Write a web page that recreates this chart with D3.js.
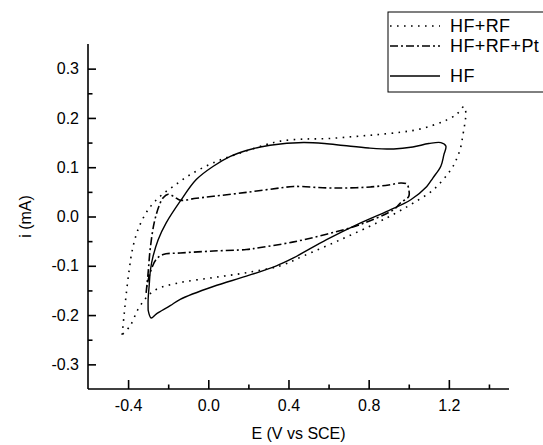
<!DOCTYPE html>
<html>
<head>
<meta charset="utf-8">
<script src="https://cdn.jsdelivr.net/npm/d3@7"></script>
<style>
  html, body { margin: 0; padding: 0; background: #fff; }
  svg { display: block; }
  text { font-family: Arial, "Liberation Sans", Helvetica, sans-serif; fill: #000; }
</style>
</head>
<body>
<svg id="chart" width="543" height="445"></svg>
<script>
// ---------------- data ----------------
const seriesNames = ["HF+RF", "HF+RF+Pt", "HF"];

// HF+RF (dotted) closed loop
const hfrfE = [-0.43, -0.42, -0.41, -0.395, -0.38, -0.35, -0.30, -0.24, -0.175, -0.09, 0.025, 0.16, 0.29, 0.36, 0.47, 0.59, 0.72, 0.84, 0.96, 1.04, 1.12, 1.19, 1.24, 1.275, 1.285, 1.28, 1.27, 1.26, 1.24, 1.21, 1.125, 1.025, 0.94, 0.84, 0.66, 0.475, 0.36, 0.19, 0.025, -0.14, -0.26, -0.31, -0.35, -0.39, -0.43];
const hfrfI = [-0.24, -0.20, -0.16, -0.11, -0.07, -0.026, 0.014, 0.041, 0.061, 0.085, 0.109, 0.129, 0.146, 0.153, 0.157, 0.158, 0.162, 0.166, 0.171, 0.176, 0.185, 0.196, 0.208, 0.223, 0.21, 0.19, 0.165, 0.142, 0.118, 0.095, 0.055, 0.028, 0.008, -0.013, -0.047, -0.080, -0.10, -0.114, -0.124, -0.134, -0.148, -0.165, -0.188, -0.222, -0.24];

// HF+RF+Pt (dash-dot) closed loop
const hfrfptE = [-0.31, -0.30, -0.29, -0.27, -0.245, -0.225, -0.20, -0.17, -0.14, -0.06, 0.025, 0.19, 0.36, 0.425, 0.59, 0.70, 0.81, 0.90, 0.96, 0.99, 1.0, 1.0, 0.96, 0.925, 0.76, 0.59, 0.42, 0.26, 0.19, 0.025, -0.14, -0.225, -0.26, -0.29, -0.305, -0.31];
const hfrfptI = [-0.155, -0.114, -0.067, -0.013, 0.022, 0.038, 0.045, 0.040, 0.033, 0.037, 0.041, 0.049, 0.058, 0.061, 0.058, 0.058, 0.060, 0.064, 0.068, 0.066, 0.055, 0.041, 0.028, 0.014, -0.016, -0.036, -0.052, -0.063, -0.067, -0.070, -0.074, -0.077, -0.087, -0.114, -0.14, -0.155];

// HF (solid) closed loop
const hfE = [-0.30, -0.30, -0.295, -0.288, -0.275, -0.25, -0.21, -0.14, -0.06, 0.025, 0.11, 0.19, 0.26, 0.36, 0.475, 0.58, 0.675, 0.80, 0.925, 1.02, 1.10, 1.16, 1.185, 1.175, 1.16, 1.12, 1.09, 1.01, 0.90, 0.76, 0.59, 0.425, 0.34, 0.19, 0.025, -0.14, -0.19, -0.26, -0.285, -0.30];
const hfI = [-0.19, -0.168, -0.141, -0.107, -0.08, -0.047, -0.013, 0.031, 0.075, 0.102, 0.122, 0.134, 0.141, 0.147, 0.150, 0.148, 0.144, 0.139, 0.137, 0.141, 0.148, 0.150, 0.143, 0.125, 0.102, 0.078, 0.061, 0.034, 0.012, -0.013, -0.047, -0.084, -0.10, -0.121, -0.142, -0.168, -0.181, -0.198, -0.206, -0.19];

const xMajorTicks = [-0.4, 0.0, 0.4, 0.8, 1.2];
const xMinorTicks = [-0.2, 0.2, 0.6, 1.0, 1.4];
const yMajorTicks = [-0.3, -0.2, -0.1, 0.0, 0.1, 0.2, 0.3];
const yMinorTicks = [-0.25, -0.15, -0.05, 0.05, 0.15, 0.25];
const xTitle = "E (V vs SCE)";
const yTitle = "i (mA)";

// ---------------- chart ----------------
const svg = d3.select("#chart");
const mLeft = 88, mRight = 509, mTop = 44, mBottom = 389;

const x = d3.scaleLinear().domain([-0.6, 1.5]).range([mLeft, mRight]);
const y = d3.scaleLinear().domain([-0.35, 0.35]).range([mBottom, mTop]);

const styles = [
  { dash: "1.6,5.4", width: 1.6, cap: "butt" },
  { dash: "8,3,2,3", width: 1.6, cap: "butt" },
  { dash: null, width: 1.4, cap: "butt" }
];
const dataSets = [
  d3.zip(hfrfE, hfrfI),
  d3.zip(hfrfptE, hfrfptI),
  d3.zip(hfE, hfI)
];

const line = d3.line()
  .x(d => x(d[0]))
  .y(d => y(d[1]))
  .curve(d3.curveCatmullRom.alpha(0.5));

dataSets.forEach((ds, k) => {
  const p = svg.append("path")
    .datum(ds)
    .attr("d", line)
    .attr("fill", "none")
    .attr("stroke", "#000")
    .attr("stroke-width", styles[k].width)
    .attr("stroke-linejoin", "round")
    .attr("stroke-linecap", styles[k].cap);
  if (styles[k].dash) p.attr("stroke-dasharray", styles[k].dash);
});

// axes
const fontSize = 16;
const fmt = d => (Math.abs(d) < 1e-9 ? 0 : d).toFixed(1);
const xAxis = svg.append("g").attr("transform", `translate(0,${mBottom})`)
  .call(d3.axisBottom(x).tickValues(xMajorTicks).tickSize(-9).tickPadding(11)
    .tickFormat(fmt));
const xAxisMinor = svg.append("g").attr("transform", `translate(0,${mBottom})`)
  .call(d3.axisBottom(x).tickValues(xMinorTicks).tickSize(-4.5).tickFormat(""));
const yAxis = svg.append("g").attr("transform", `translate(${mLeft},0)`)
  .call(d3.axisLeft(y).tickValues(yMajorTicks).tickSize(-8).tickPadding(9)
    .tickFormat(fmt));
const yAxisMinor = svg.append("g").attr("transform", `translate(${mLeft},0)`)
  .call(d3.axisLeft(y).tickValues(yMinorTicks).tickSize(-4.5).tickFormat(""));

[xAxis, xAxisMinor, yAxis, yAxisMinor].forEach(g => {
  g.selectAll(".domain").attr("stroke", "#000").attr("stroke-width", 1.6);
  g.selectAll(".tick line").attr("stroke", "#000").attr("stroke-width", 1.6);
  g.selectAll("text").attr("font-size", fontSize)
    .style("font-family", "Arial, 'Liberation Sans', sans-serif").attr("fill", "#000");
});
xAxis.selectAll(".domain").attr("d", `M${mLeft},0H${mRight}`);
xAxisMinor.select(".domain").remove();
yAxisMinor.select(".domain").remove();
yAxis.selectAll(".domain").attr("d", `M0,${mBottom}V${mTop}`);

// titles
svg.append("text")
  .attr("x", (mLeft + mRight) / 2).attr("y", 439)
  .attr("text-anchor", "middle").attr("font-size", fontSize)
  .text(xTitle);
svg.append("text")
  .attr("transform", `translate(31,${(mTop + mBottom) / 2}) rotate(-90)`)
  .attr("text-anchor", "middle").attr("font-size", fontSize)
  .text(yTitle);

// legend
const lg = svg.append("g");
lg.append("rect")
  .attr("x", 388).attr("y", 12).attr("width", 170).attr("height", 80)
  .attr("fill", "#fff").attr("stroke", "#000").attr("stroke-width", 1);
const legendY = [26, 46, 76];
seriesNames.forEach((name, k) => {
  const l = lg.append("line")
    .attr("x1", 390).attr("x2", 440)
    .attr("y1", legendY[k]).attr("y2", legendY[k])
    .attr("stroke", "#000").attr("stroke-width", styles[k].width);
  if (styles[k].dash) l.attr("stroke-dasharray", styles[k].dash);
  lg.append("text")
    .attr("x", 450).attr("y", legendY[k]).attr("dy", "0.36em")
    .attr("font-size", 18).attr("letter-spacing", 0.4).text(name);
});
</script>
</body>
</html>
